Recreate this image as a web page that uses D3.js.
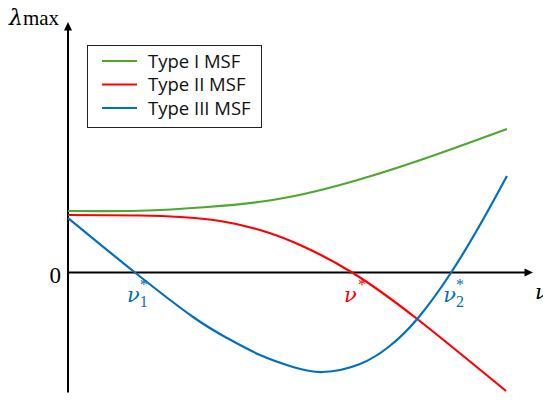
<!DOCTYPE html>
<html>
<head>
<meta charset="utf-8">
<script src="https://cdn.jsdelivr.net/npm/d3@7"></script>
<style>
  body { margin: 0; background: #fff; }
  svg { display: block; }
</style>
</head>
<body>
<script>
// curve values (nu on x, lambda_max on y, arbitrary units)
const greenNu  = [0, 1.55, 3.0, 4.4, 5.85, 7.55, 9.44];
const greenLam = [1.23, 1.235, 1.31, 1.45, 1.75, 2.24, 2.87];

const redNu  = [0, 1.55, 2.41, 3.27, 4.13, 4.99, 6.11, 7.51, 9.42];
const redLam = [1.15, 1.14, 1.11, 1.03, 0.85, 0.55, 0, -0.93, -2.37];

const blueNu  = [0, 1.44, 2.69, 3.42, 4.13, 4.84, 5.48, 6.28, 6.92, 7.51, 8.24, 8.92, 9.44];
const blueLam = [1.09, 0, -0.89, -1.31, -1.65, -1.89, -1.99, -1.83, -1.47, -0.93, 0, 1.05, 1.93];

const seriesNames = ['Type I MSF', 'Type II MSF', 'Type III MSF'];
const seriesColors = ['#4ea72e', '#ff0000', '#0070c0'];

// zero crossings marked on the axis
const crossNu = [1.44, 6.11, 8.24];
const crossSub = ['1', '', '2'];
const crossColor = ['#0070c0', '#ff0000', '#0070c0'];

let width = 543;
let height = 403;

let svg = d3.select('body').append('svg').attr('width', width).attr('height', height);

let x = d3.scaleLinear().domain([0, 10]).range([68, 533]);
let y = d3.scaleLinear().domain([-2.4, 5]).range([392.5, 22.5]);

let line = d3.line()
  .x(d => x(d[0]))
  .y(d => y(d[1]))
  .curve(d3.curveNatural);

// axes with arrow heads
let axes = svg.append('g').attr('stroke', '#000').attr('stroke-width', 2);
axes.append('line')
  .attr('x1', x(0)).attr('x2', x(0))
  .attr('y1', y(-2.4)).attr('y2', y(4.9));
axes.append('line')
  .attr('x1', x(0)).attr('x2', x(9.85))
  .attr('y1', y(0)).attr('y2', y(0));

svg.append('path')
  .attr('d', `M${x(0)},${y(5) - 0.5} l-4,8.5 l8,0 Z`)
  .attr('fill', '#000');
svg.append('path')
  .attr('d', `M${x(10)},${y(0)} l-8.5,-4 l0,8 Z`)
  .attr('fill', '#000');

// curves
let curves = [
  d3.zip(greenNu, greenLam),
  d3.zip(redNu, redLam),
  d3.zip(blueNu, blueLam)
];

svg.append('g')
  .selectAll('path')
  .data(curves)
  .enter()
    .append('path')
    .attr('d', line)
    .attr('fill', 'none')
    .attr('stroke', (d, i) => seriesColors[i])
    .attr('stroke-width', 2.2);

// axis labels
let serif = '"Liberation Serif", "DejaVu Serif", serif';
let greek = '"DejaVu Serif", serif';

let ylab = svg.append('text')
  .attr('x', 9)
  .attr('y', 25);
ylab.append('tspan').attr('font-family', greek).attr('font-style', 'italic').attr('font-size', 22).text('λ');
ylab.append('tspan').attr('font-family', serif).attr('font-size', 21).attr('dx', 0).text('max');

svg.append('text')
  .attr('x', 61)
  .attr('y', 283)
  .attr('text-anchor', 'end')
  .attr('font-family', serif)
  .attr('font-size', 23)
  .text('0');

svg.append('text')
  .attr('x', 535)
  .attr('y', 299)
  .attr('font-family', greek)
  .attr('font-style', 'italic')
  .attr('font-size', 21)
  .text('ν');

// nu* markers: nu, subscript, star in one text
let marks = svg.append('g')
  .selectAll('text')
  .data(crossNu)
  .enter()
    .append('text')
    .attr('x', d => x(d) - 8)
    .attr('y', 302)
    .attr('fill', (d, i) => crossColor[i])
    .attr('font-family', greek);

marks.append('tspan')
  .attr('font-style', 'italic')
  .attr('font-size', 21)
  .text('ν');

marks.append('tspan')
  .attr('font-family', serif)
  .attr('font-size', 16)
  .attr('dy', 5)
  .text((d, i) => crossSub[i]);

marks.append('tspan')
  .attr('font-family', serif)
  .attr('font-size', 16)
  .attr('dx', (d, i) => i == 1 ? 1 : -8)
  .attr('dy', (d, i) => i == 1 ? -12 : -17)
  .text('*');

// legend
let legend = svg.append('g');
legend.append('rect')
  .attr('x', 87.5).attr('y', 45.5)
  .attr('width', 174).attr('height', 82)
  .attr('fill', '#fff')
  .attr('stroke', '#222')
  .attr('stroke-width', 1);

let rows = legend.selectAll('g.row')
  .data(seriesNames)
  .enter()
    .append('g')
    .attr('class', 'row')
    .attr('transform', (d, i) => `translate(0, ${61 + i * 23.5})`);

rows.append('line')
  .attr('x1', 102).attr('x2', 137)
  .attr('stroke', (d, i) => seriesColors[i])
  .attr('stroke-width', 2.2);

rows.append('text')
  .attr('x', 148)
  .attr('y', 6.5)
  .attr('font-family', '"Open Sans", "Noto Sans", sans-serif')
  .attr('font-size', 18.5)
  .attr('fill', '#111')
  .text(d => d);
</script>
</body>
</html>
